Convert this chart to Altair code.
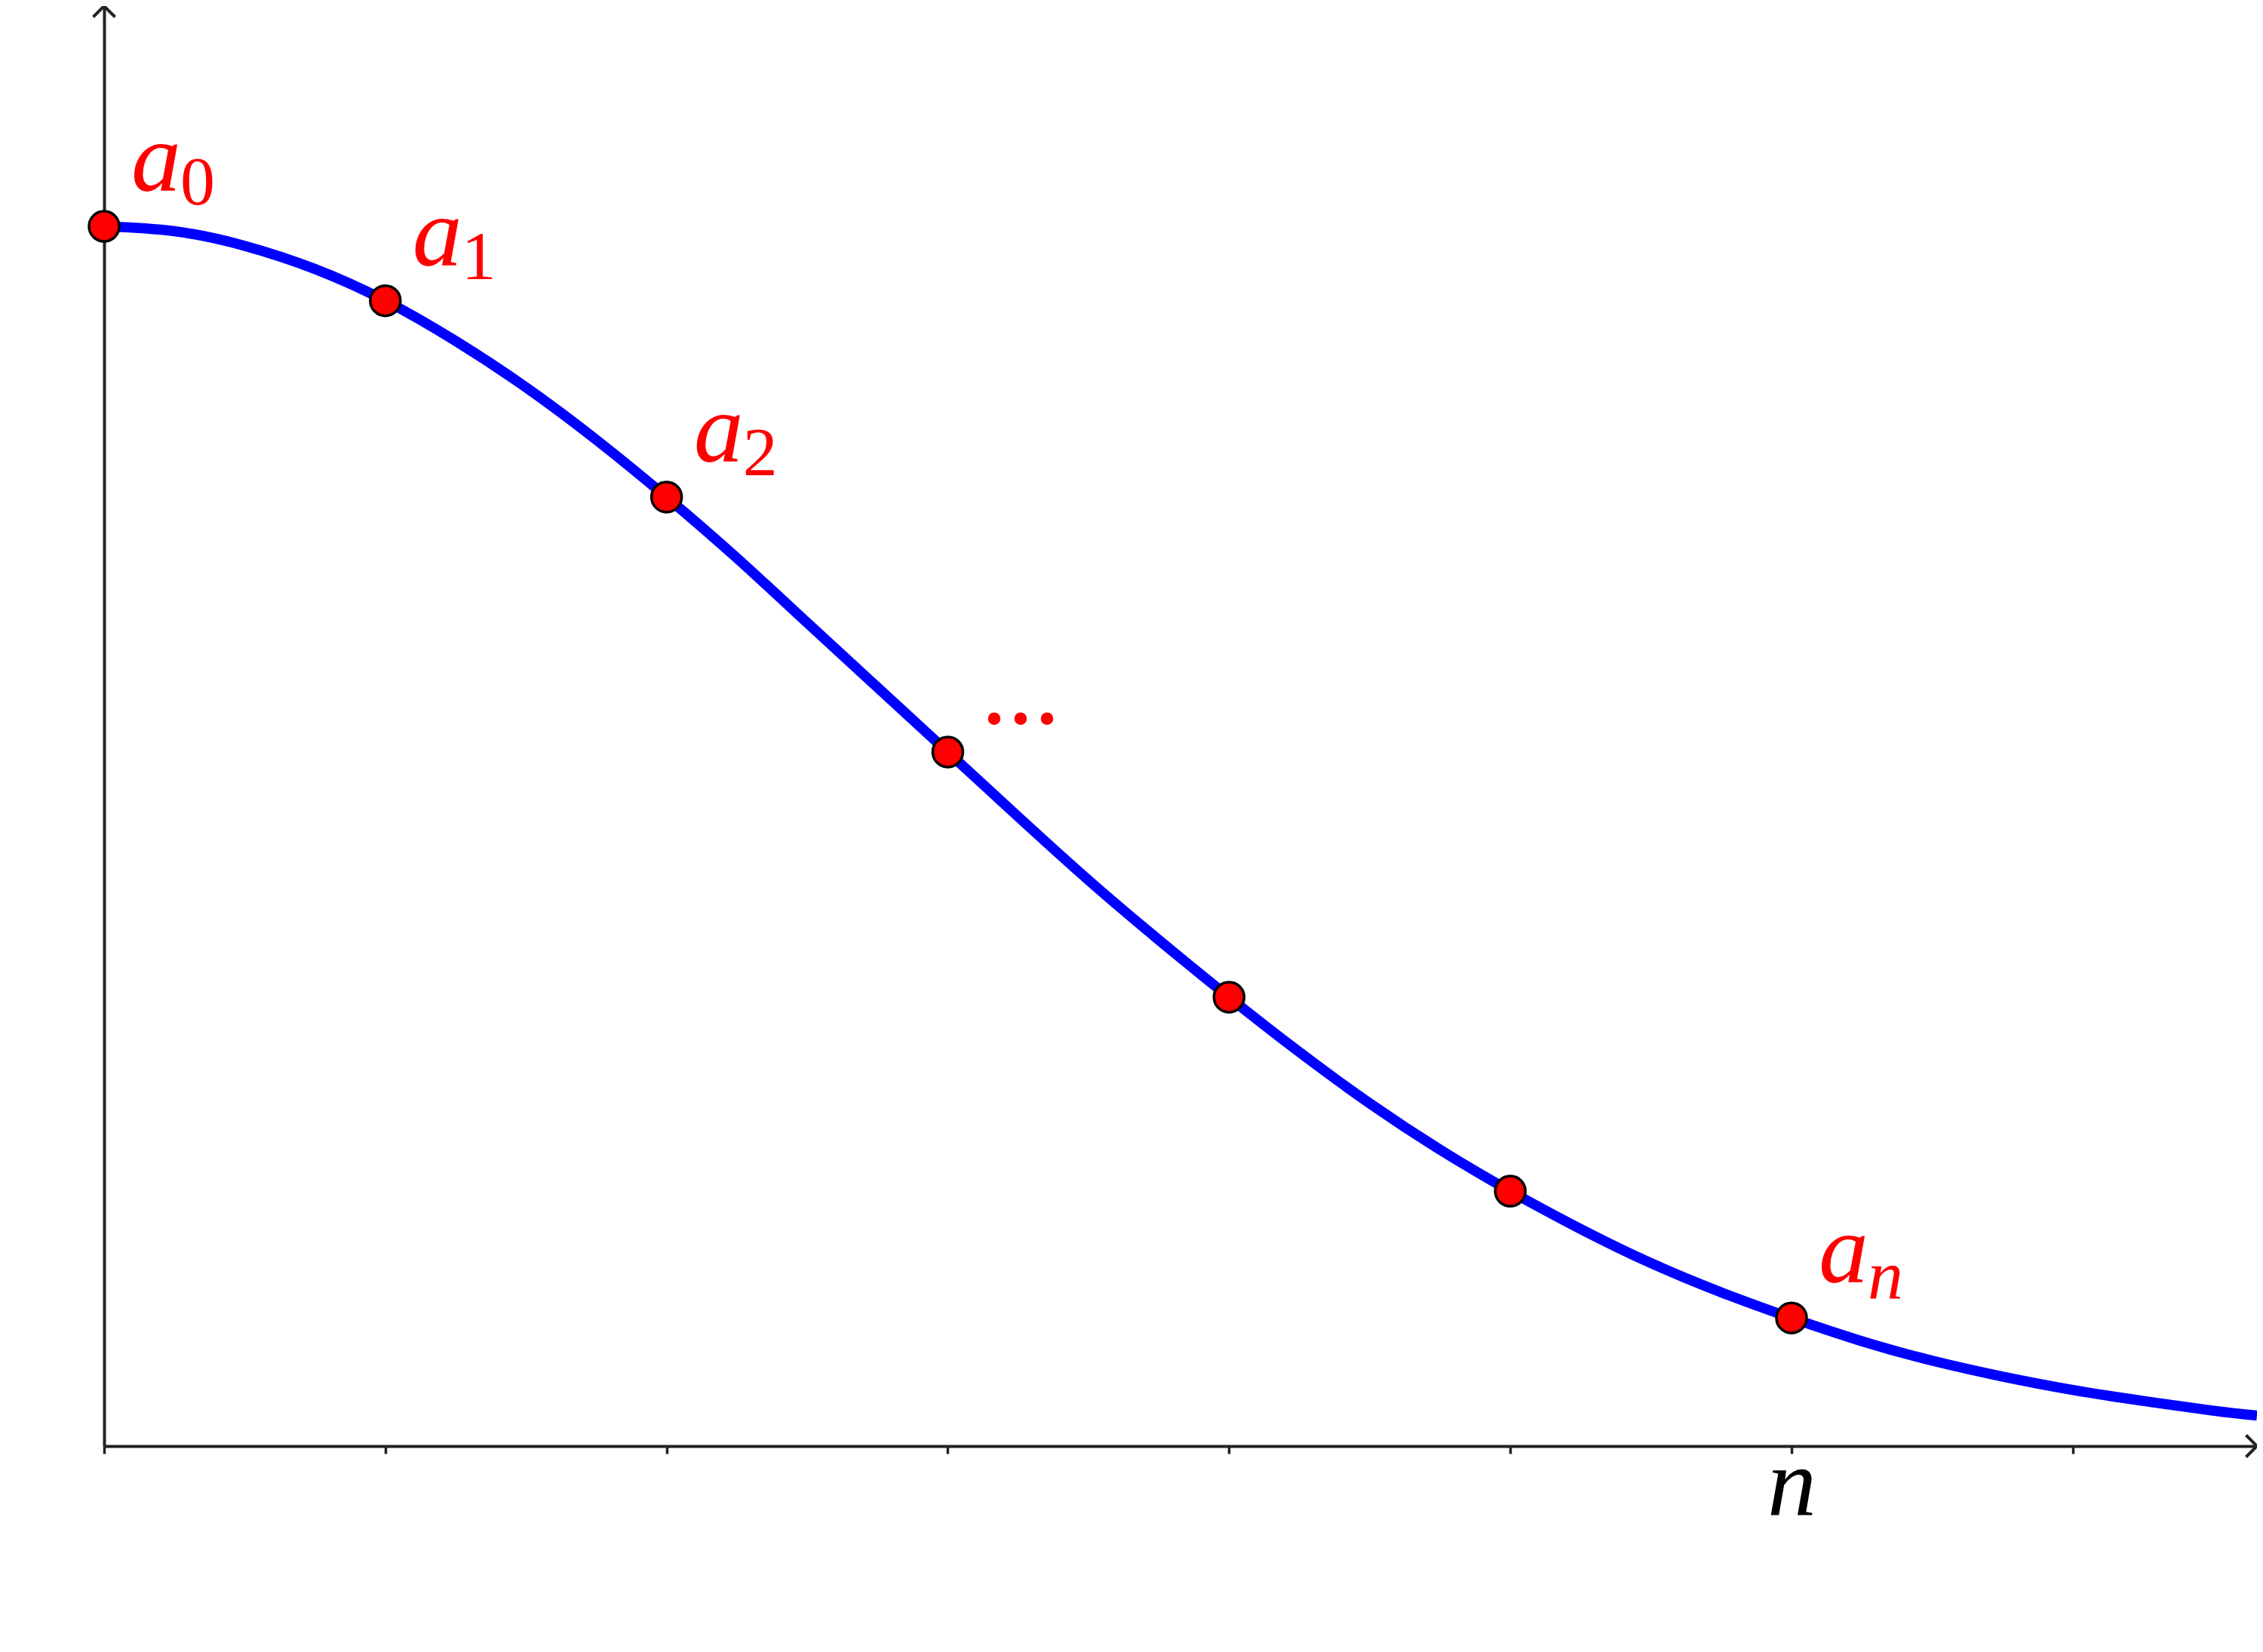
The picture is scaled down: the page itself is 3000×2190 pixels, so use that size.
import altair as alt
import pandas as pd

# ---- data ----
curve_x = [0.0, 0.25, 0.5, 0.75, 1.0, 1.25, 1.5, 1.75, 2.0, 2.25, 2.5, 2.75, 3.0,
           3.25, 3.5, 3.75, 4.0, 4.25, 4.5, 4.75, 5.0, 5.25, 5.5, 5.75, 6.0,
           6.25, 6.5, 6.75, 7.0, 7.25, 7.5, 7.655]
curve_y = [1.000, 0.996, 0.984, 0.965, 0.939, 0.906, 0.868, 0.825, 0.778, 0.728,
           0.675, 0.622, 0.569, 0.516, 0.464, 0.415, 0.368, 0.323, 0.281, 0.243,
           0.209, 0.178, 0.150, 0.126, 0.105, 0.086, 0.070, 0.057, 0.046, 0.037,
           0.029, 0.025]

point_x = [0, 1, 2, 3, 4, 5, 6]
point_y = [1.000, 0.939, 0.778, 0.569, 0.368, 0.209, 0.105]
label_base = ["a", "a", "a", "", "", "", "a"]
label_sub = ["0", "1", "2", "", "", "", "n"]
label_dots = ["", "", "", "...", "", "", ""]

tick_values = [0, 1, 2, 3, 4, 5, 6, 7]
tick_labels = ["", "", "", "", "", "", "n", ""]

XMAX = 7.655
YMAX = 1.1806

# ---- tables ----
curve = pd.DataFrame({"x": curve_x, "y": curve_y})
pts = pd.DataFrame({"x": point_x, "y": point_y, "base": label_base,
                    "sub": label_sub, "dots": label_dots})
arrows = pd.DataFrame({
    "x": [XMAX, 0],
    "y": [0, YMAX],
    "shape": ["M-1,-1L0,0L-1,1", "M-1,1L0,0L1,1"],
})

AX = "#222222"
FONT = "Liberation Serif"
label_expr = "[" + ",".join("'" + t + "'" for t in tick_labels) + "][datum.value]"

xs = alt.Scale(domain=[0, XMAX], nice=False, zero=False)
ys = alt.Scale(domain=[0, YMAX], nice=False, zero=False)

x_axis = alt.Axis(values=tick_values, title=None, grid=False,
                  domainColor=AX, domainWidth=4,
                  tickColor=AX, tickWidth=3.5, tickSize=10,
                  labelExpr=label_expr, labelFont=FONT,
                  labelFontStyle="italic", labelFontSize=130, labelColor="black",
                  labelBaseline="alphabetic", labelPadding=81,
                  labelOverlap=False, labelFlush=False)
y_axis = alt.Axis(title=None, grid=False, ticks=False, labels=False,
                  domainColor=AX, domainWidth=4)

line = alt.Chart(curve).mark_line(color="#0000ff", strokeWidth=13.5,
                                  interpolate="natural").encode(
    x=alt.X("x:Q", scale=xs, axis=x_axis),
    y=alt.Y("y:Q", scale=ys, axis=y_axis),
)

arrow = alt.Chart(arrows).mark_point(filled=False, stroke=AX, strokeWidth=4,
                                     size=840, opacity=1).encode(
    x=alt.X("x:Q", scale=xs),
    y=alt.Y("y:Q", scale=ys),
    shape=alt.Shape("shape:N", scale=None, legend=None),
)

points = alt.Chart(pts).mark_point(filled=True, fill="#ff0000", stroke="black",
                                   strokeWidth=3.5, size=1600, opacity=1,
                                   shape="circle").encode(
    x=alt.X("x:Q", scale=xs),
    y=alt.Y("y:Q", scale=ys),
)

base_txt = alt.Chart(pts).mark_text(align="left", baseline="alphabetic",
                                    font=FONT, fontStyle="italic",
                                    fontSize=132, color="#ff0000",
                                    dx=36, dy=-47).encode(
    x=alt.X("x:Q", scale=xs), y=alt.Y("y:Q", scale=ys), text="base:N")

sub_digits = alt.Chart(pts).transform_filter("datum.sub != 'n'").mark_text(
    align="left", baseline="alphabetic", font=FONT,
    fontSize=92, color="#ff0000", dx=101, dy=-29).encode(
    x=alt.X("x:Q", scale=xs), y=alt.Y("y:Q", scale=ys), text="sub:N")

sub_italic = alt.Chart(pts).transform_filter("datum.sub == 'n'").mark_text(
    align="left", baseline="alphabetic", font=FONT,
    fontStyle="italic", fontSize=94, color="#ff0000", dx=101, dy=-25).encode(
    x=alt.X("x:Q", scale=xs), y=alt.Y("y:Q", scale=ys), text="sub:N")

dots = alt.Chart(pts).mark_text(align="left", baseline="alphabetic",
                                font=FONT, fontSize=140,
                                color="#ff0000", dx=44, dy=-38).encode(
    x=alt.X("x:Q", scale=xs), y=alt.Y("y:Q", scale=ys), text="dots:N")

chart = alt.layer(line, arrow, points, base_txt, sub_digits, sub_italic, dots).properties(
    width=2854, height=1909,
    autosize=alt.AutoSizeParams(type="none"),
    padding={"left": 130, "top": 0, "right": 0, "bottom": 200},
    background="white",
).configure_view(strokeWidth=0)

chart.save("out.html", embed_options={"renderer": "svg", "actions": False})
